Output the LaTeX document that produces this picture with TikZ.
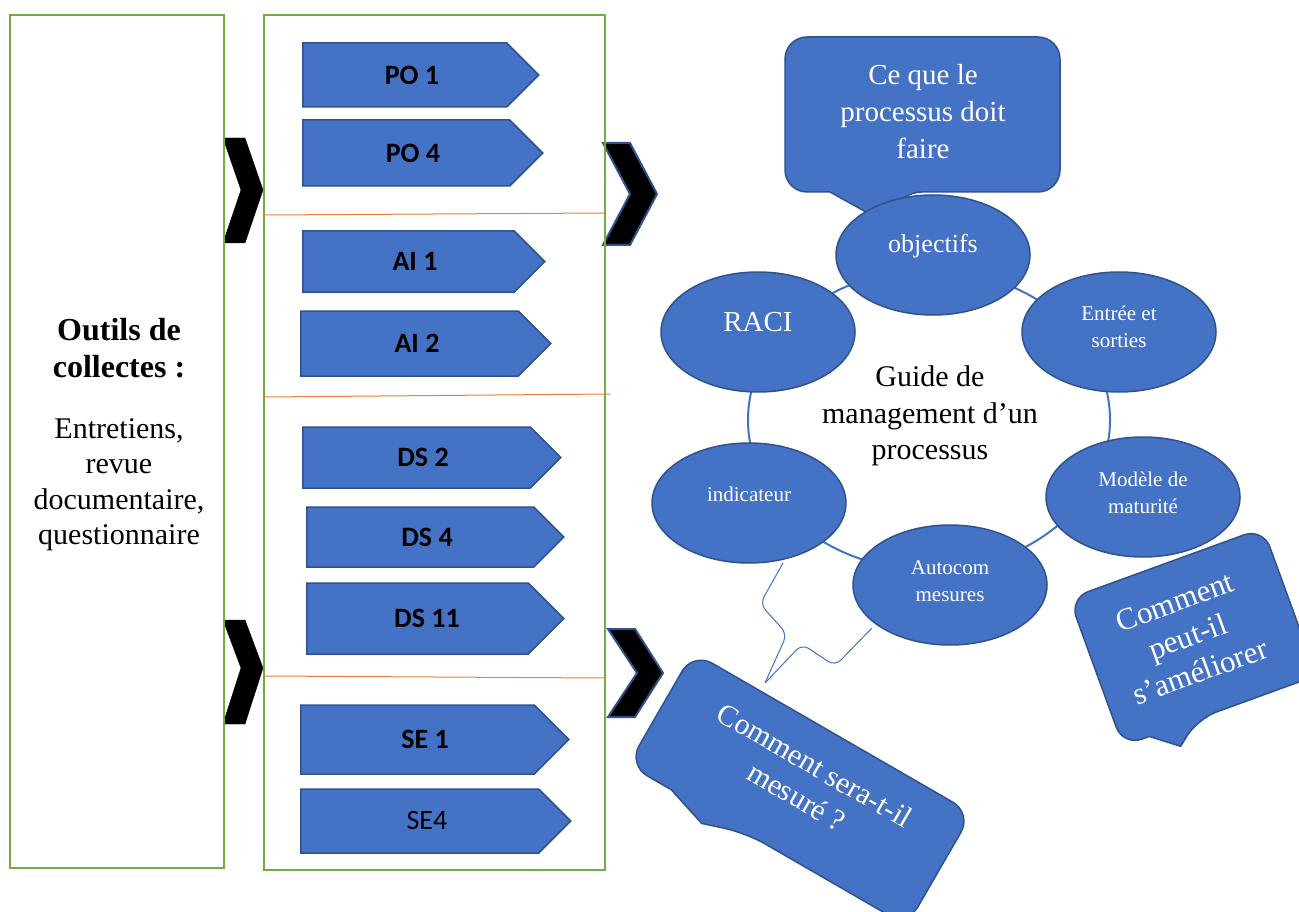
\documentclass[tikz,border=0pt]{standalone}
\usepackage{fontspec}
\setmainfont{Liberation Serif}
\newfontfamily\calibfont{Carlito}
\usetikzlibrary{shapes.geometric,shapes.symbols}
\definecolor{acc}{HTML}{4472C4}
\definecolor{accdark}{HTML}{2F528F}
\definecolor{frameg}{HTML}{70AD47}
\definecolor{sepor}{HTML}{ED7D31}

\begin{document}
\begin{tikzpicture}[x=1pt,y=-1pt,
  frame/.style={draw=frameg, line width=2pt},
  sepline/.style={draw=sepor, line width=1pt},
  chevblack/.style={fill=black},
  chevblue/.style={fill=black, draw=accdark, line width=2pt, line join=miter},
  pent/.style={shape=signal, signal to=east, signal pointer angle=90, fill=acc,
    draw=accdark, line width=1.5pt, inner sep=0pt, anchor=west},
  penttxt/.style={font=\calibfont\bfseries\fontsize{28}{32}\selectfont, text=black, inner sep=0pt},
  bub/.style={ellipse, fill=acc, draw=accdark, line width=1.5pt,
    minimum width=194pt, minimum height=120pt, inner sep=0pt},
  bubtxt/.style={text=white, align=center, font=\fontsize{21}{27}\selectfont, inner sep=0pt},
  ring/.style={ellipse, draw=acc, line width=2pt, minimum width=362pt, minimum height=300pt, inner sep=0pt},
  callout/.style={fill=acc, draw=accdark, line width=1.5pt},
  calltxt/.style={text=white, align=center, inner sep=0pt},
  thintail/.style={draw=acc, line width=1pt, rounded corners=8pt},
]
\useasboundingbox (0,0) rectangle (1299,912);
\clip (0,0) rectangle (1299,912);

% chevrons between the columns
\draw[chevblack] (223,138) -- (245,138) -- (263,190) -- (245,243) -- (223,243) -- (241,190) -- cycle;
\draw[chevblack] (223,620) -- (245,620) -- (263,668) -- (245,724) -- (223,724) -- (241,668) -- cycle;
\draw[chevblue] (603,143) -- (630,143) -- (657,194) -- (630,245) -- (603,245) -- (630,194) -- cycle;
\draw[chevblue] (608,629) -- (635,629) -- (663,673) -- (635,717) -- (608,717) -- (637,673) -- cycle;

% the two framed columns
\node[frame, minimum width=214pt, minimum height=853pt, inner sep=0pt] (tools) at (117,441.5) {};
\node[frame, minimum width=341pt, minimum height=855pt, inner sep=0pt] (procs) at (434.5,442.5) {};

% separators between the domains
\draw[sepline] (264,215) -- (605,213);
\draw[sepline] (264,397) -- (610,394);
\draw[sepline] (264,676) -- (605,678);

% left column text
\node[align=center, inner sep=0pt, font=\bfseries\fontsize{32}{37}\selectfont] (toolstitle) at (119,348) {Outils de\\collectes :};
\node[align=center, inner sep=0pt, font=\fontsize{30}{35.5}\selectfont] (toolsbody) at (119,485) {Entretiens,\\revue\\documentaire,\\questionnaire};

% process tags (left edge, centre line, width, height, text centre)
\foreach \id/\lx/\cy/\w/\h/\tx/\lab in {
  po1/302/75/236/64/412/{PO 1},
  po4/302/153/240/66/413/{PO 4},
  ai1/302/261.5/242/61/415/{AI 1},
  ai2/300/343.5/250/65/417/{AI 2},
  ds2/302/457.5/258/61/423/{DS 2},
  ds4/306/537/257/60/427/{DS 4},
  ds11/306/618.5/257/71/427/{DS 11},
  se1/300/739.5/268/69/425/{SE 1}}
{
  \node[pent, minimum width=\w pt, minimum height=\h pt] (\id) at (\lx,\cy) {};
  \node[penttxt] (\id-t) at (\tx,\cy) {\lab};
}
\node[pent, minimum width=270pt, minimum height=64pt] (se4) at (300,821) {};
\node[penttxt, font=\calibfont\fontsize{28}{32}\selectfont] (se4-t) at (427,821) {SE4};

% ring joining the components
\node[ring] (ring) at (929,420) {};

% callout above the objectives
\draw[callout] (785,110) [rounded corners=22pt] -- (785,37) -- (1060,37) -- (1060,192) -- (900,192)
  [sharp corners] -- (884,222) -- (830,192) [rounded corners=22pt] -- (785,192) -- cycle;
\node[calltxt, font=\fontsize{29}{37}\selectfont] (whatlbl) at (923,112) {Ce que le\\processus doit\\faire};

% thin outline tail towards the measurement callout
\draw[thintail] (783,563) -- (760,604) -- (787,634) -- (765,683);
\draw[thintail] (872,628) -- (835,666) -- (802,644) -- (765,683);

% components of the guide
\node[bub] (obj) at (933,255) {};
\node[bubtxt, font=\fontsize{26}{30}\selectfont] (obj-t) at (933,246) {objectifs};
\node[bub] (raci) at (758,332) {};
\node[bubtxt, font=\fontsize{29}{33}\selectfont] (raci-t) at (758,322) {RACI};
\node[bub] (io) at (1119,332) {};
\node[bubtxt] (io-t) at (1119,327) {Entrée et\\sorties};
\node[bub] (ind) at (749,503) {};
\node[bubtxt] (ind-t) at (749,494) {indicateur};
\node[bub] (mat) at (1143,497) {};
\node[bubtxt] (mat-t) at (1143,493) {Modèle de\\maturité};
\node[bub] (auto) at (950,585) {};
\node[bubtxt] (auto-t) at (950,581) {Autocom\\mesures};

\node[align=center, inner sep=0pt, font=\fontsize{30}{36.5}\selectfont] (guide) at (930,416) {Guide de\\management d’un\\processus};

% how it is measured
\begin{scope}[shift={(800,789)}, rotate=-30]
  \draw[callout] (-161,0) [rounded corners=22pt] -- (-161,-65) -- (161,-65) -- (161,65) -- (-25,65)
    [sharp corners] -- (-68,79) -- (-111,65) [rounded corners=22pt] -- (-161,65) -- cycle;
  \node[calltxt, rotate=-30, font=\fontsize{30}{36}\selectfont] (measlbl) at (1,-10) {Comment sera-t-il\\mesuré ?};
\end{scope}

% how it can improve
\begin{scope}[shift={(1193,637)}, rotate=20]
  \draw[callout] (-103,0) [rounded corners=20pt] -- (-103,-78.5) -- (103,-78.5) -- (103,78.5) -- (-24,78.5)
    [sharp corners] -- (-49,98.5) -- (-75,78.5) [rounded corners=20pt] -- (-103,78.5) -- cycle;
  \node[calltxt, rotate=20, font=\fontsize{31}{37}\selectfont] (imprlbl) at (-5,-2) {Comment\\peut-il\\s’améliorer};
\end{scope}
\end{tikzpicture}
\end{document}
